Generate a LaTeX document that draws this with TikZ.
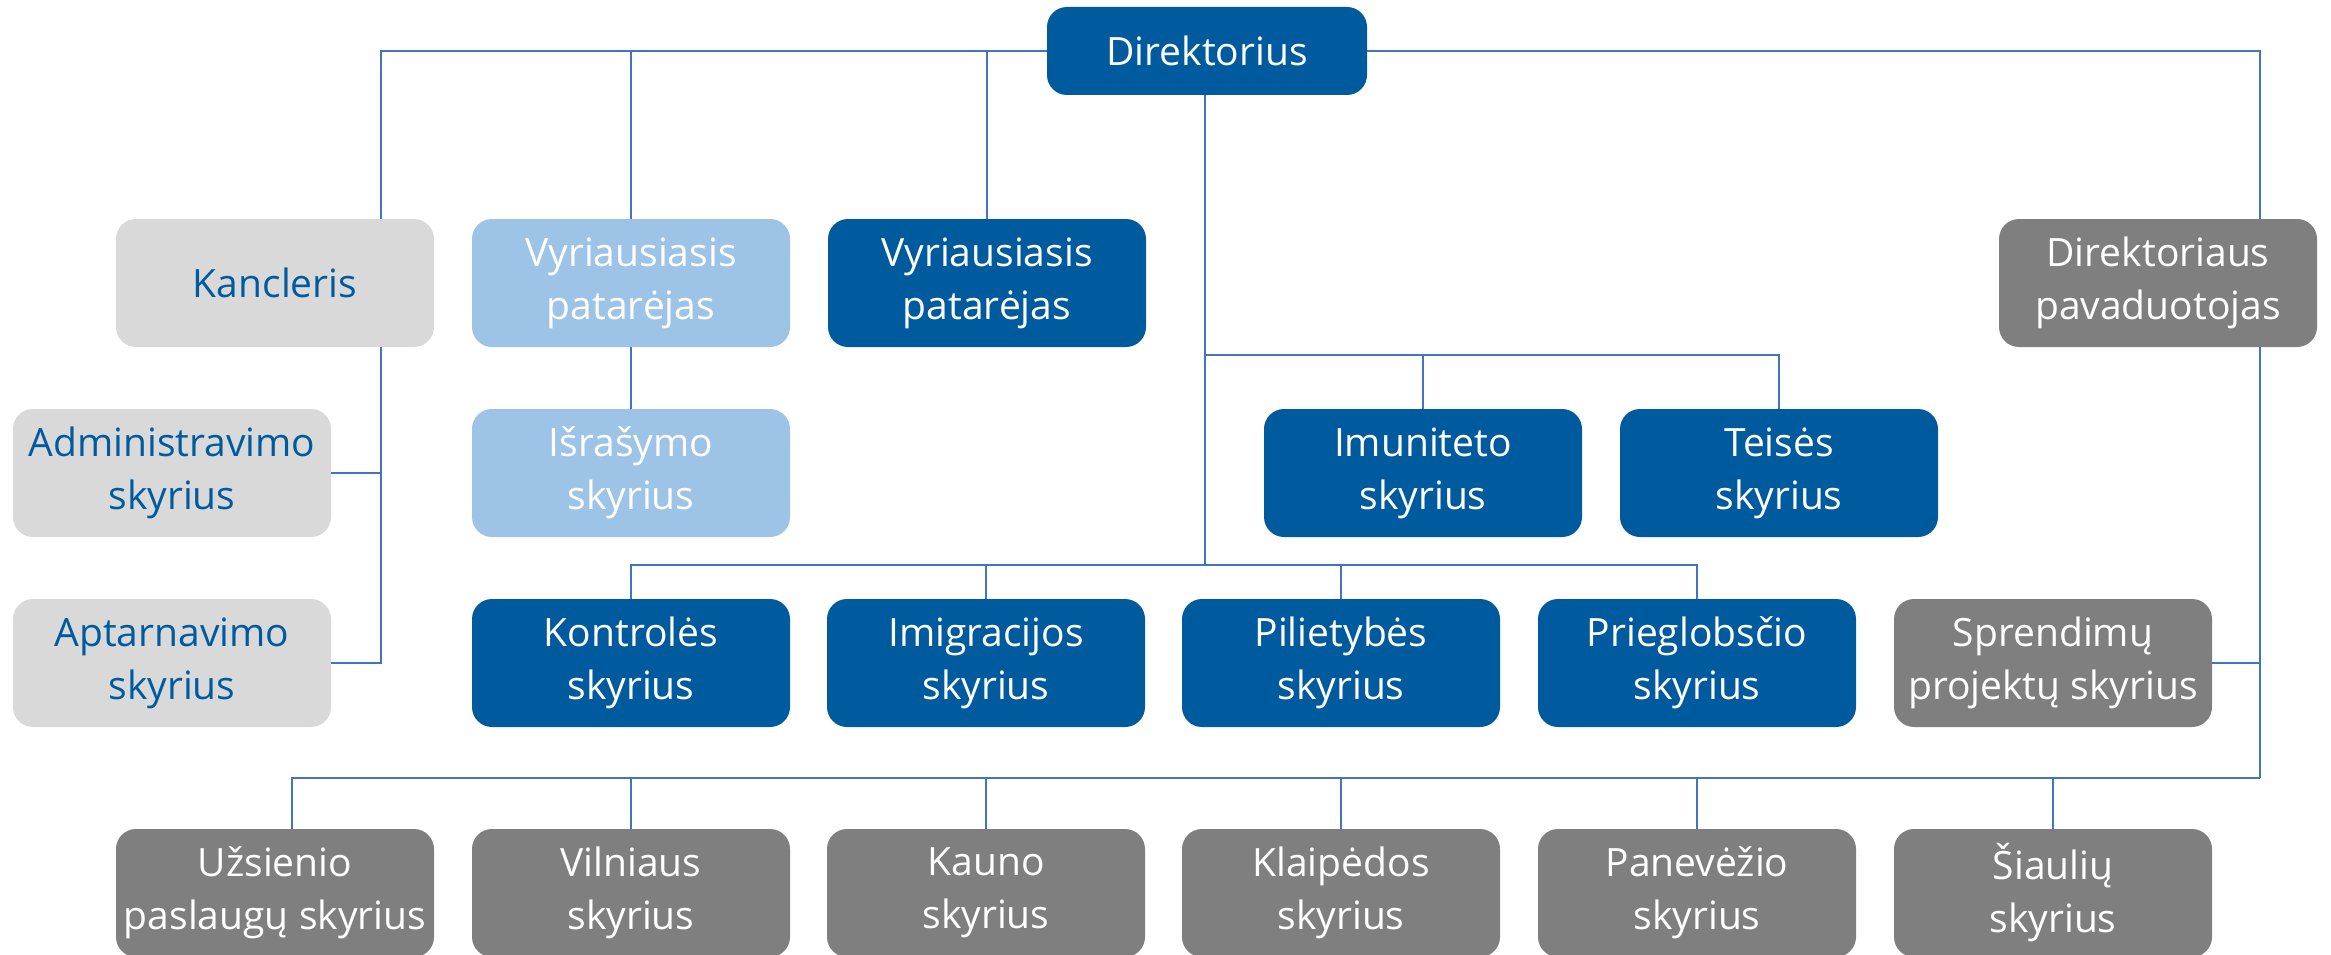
\documentclass[tikz,border=0pt]{standalone}
\usepackage{fontspec}
\setmainfont{Open Sans}
\definecolor{dblue}{RGB}{0,91,158}
\definecolor{lblue}{RGB}{157,195,230}
\definecolor{lgray}{RGB}{217,217,217}
\definecolor{mgray}{RGB}{127,127,127}
\definecolor{linec}{RGB}{68,114,196}
\tikzset{
  boxbase/.style={rounded corners=20pt, minimum width=318pt, minimum height=128pt, inner sep=0pt, align=center, font=\fontsize{39}{53}\selectfont},
  darkbox/.style={boxbase, fill=dblue, text=white},
  lightbox/.style={boxbase, fill=lblue, text=white},
  greybox/.style={boxbase, fill=lgray, text=dblue},
  midbox/.style={boxbase, fill=mgray, text=white},
  conn/.style={draw=linec, line width=1.6pt}
}
\begin{document}
\begin{tikzpicture}[x=1pt,y=-1pt]
\useasboundingbox (0,0) rectangle (2331,955);
\begin{scope}
\clip (0,0) rectangle (2331,955);
% nodes
\node[darkbox, minimum width=320pt, minimum height=88pt] (dir) at (1207,51) {Direktorius};
\node[greybox] (kanc) at (275,283) {Kancleris};
\node[lightbox] (vp1) at (631,283) {Vyriausiasis\\patarėjas};
\node[darkbox] (vp2) at (987,283) {Vyriausiasis\\patarėjas};
\node[midbox] (dpav) at (2158,283) {Direktoriaus\\pavaduotojas};
\node[greybox] (adm) at (172,473) {Administravimo\\skyrius};
\node[lightbox] (isr) at (631,473) {Išrašymo\\skyrius};
\node[darkbox] (imu) at (1423,473) {Imuniteto\\skyrius};
\node[darkbox] (teis) at (1779,473) {Teisės\\skyrius};
\node[greybox] (apt) at (172,663) {Aptarnavimo\\skyrius};
\node[darkbox] (kont) at (631,663) {Kontrolės\\skyrius};
\node[darkbox] (imig) at (986,663) {Imigracijos\\skyrius};
\node[darkbox] (pil) at (1341,663) {Pilietybės\\skyrius};
\node[darkbox] (prieg) at (1697,663) {Prieglobsčio\\skyrius};
\node[midbox] (spr) at (2053,663) {Sprendimų\\projektų skyrius};
\node[midbox] (uzs) at (275,893) {Užsienio\\paslaugų skyrius};
\node[midbox] (viln) at (631,893) {Vilniaus\\skyrius};
\node[midbox] (kaun) at (986,893) {Kauno\\skyrius};
\node[midbox] (klp) at (1341,893) {Klaipėdos\\skyrius};
\node[midbox] (pan) at (1697,893) {Panevėžio\\skyrius};
\node[midbox] (siau) at (2053,893) {Šiaulių\\skyrius};
% junction coordinates
\coordinate (kx) at ([xshift=106pt]kanc.north);
\coordinate (kxs) at ([xshift=106pt]kanc.south);
\coordinate (dx) at ([xshift=102pt]dpav.north);
\coordinate (dxs) at ([xshift=102pt]dpav.south);
\coordinate (ux) at ([xshift=17pt]uzs.north);
\coordinate (busA) at (1205,355);
\coordinate (busB) at (1205,565);
\coordinate (busC) at (2260,778);
\coordinate (dirb) at (1205,95);
\end{scope}
% connectors
\draw[conn] (kx) |- (dir);
\draw[conn] (vp1) |- (dir);
\draw[conn] (vp2) |- (dir);
\draw[conn] (dx) |- (dir);
\draw[conn] (dirb) -- (busB);
\draw[conn] (busA) -| (imu);
\draw[conn] (busA) -| (teis);
\draw[conn] (busB) -| (kont);
\draw[conn] (busB) -| (imig);
\draw[conn] (busB) -| (pil);
\draw[conn] (busB) -| (prieg);
\draw[conn] (kxs) |- (apt);
\draw[conn] (kxs |- adm) -- (adm);
\draw[conn] (vp1) -- (isr);
\draw[conn] (dxs) -- (busC);
\draw[conn] (dxs |- spr) -- (spr);
\draw[conn] (busC) -| (ux);
\draw[conn] (busC) -| (viln);
\draw[conn] (busC) -| (kaun);
\draw[conn] (busC) -| (klp);
\draw[conn] (busC) -| (pan);
\draw[conn] (busC) -| (siau);
\end{tikzpicture}
\end{document}
